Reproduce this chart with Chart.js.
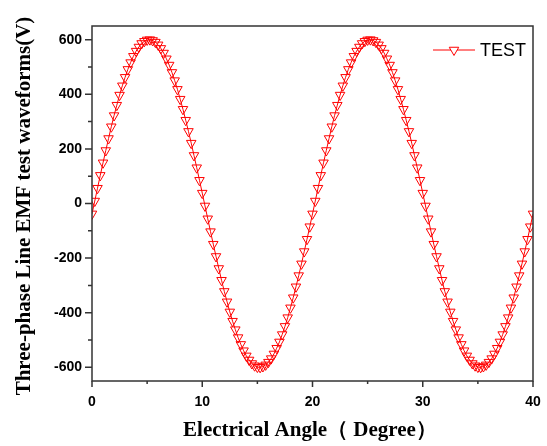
<!DOCTYPE html>
<html lang="en">
<head>
<meta charset="UTF-8">
<title>Three-phase Line EMF test waveforms</title>
<script src="https://cdn.jsdelivr.net/npm/chart.js"></script>
<style>
  html, body { margin: 0; padding: 0; background: #fff; }
  #wrap { width: 547px; height: 446px; }
</style>
</head>
<body>
<div id="wrap"><canvas id="emfChart" width="547" height="446"></canvas></div>
<script>
// electrical angle (degree), sampled every 0.25
const angles = [
  0, 0.25, 0.5, 0.75, 1, 1.25, 1.5, 1.75,
  2, 2.25, 2.5, 2.75, 3, 3.25, 3.5, 3.75,
  4, 4.25, 4.5, 4.75, 5, 5.25, 5.5, 5.75,
  6, 6.25, 6.5, 6.75, 7, 7.25, 7.5, 7.75,
  8, 8.25, 8.5, 8.75, 9, 9.25, 9.5, 9.75,
  10, 10.25, 10.5, 10.75, 11, 11.25, 11.5, 11.75,
  12, 12.25, 12.5, 12.75, 13, 13.25, 13.5, 13.75,
  14, 14.25, 14.5, 14.75, 15, 15.25, 15.5, 15.75,
  16, 16.25, 16.5, 16.75, 17, 17.25, 17.5, 17.75,
  18, 18.25, 18.5, 18.75, 19, 19.25, 19.5, 19.75,
  20, 20.25, 20.5, 20.75, 21, 21.25, 21.5, 21.75,
  22, 22.25, 22.5, 22.75, 23, 23.25, 23.5, 23.75,
  24, 24.25, 24.5, 24.75, 25, 25.25, 25.5, 25.75,
  26, 26.25, 26.5, 26.75, 27, 27.25, 27.5, 27.75,
  28, 28.25, 28.5, 28.75, 29, 29.25, 29.5, 29.75,
  30, 30.25, 30.5, 30.75, 31, 31.25, 31.5, 31.75,
  32, 32.25, 32.5, 32.75, 33, 33.25, 33.5, 33.75,
  34, 34.25, 34.5, 34.75, 35, 35.25, 35.5, 35.75,
  36, 36.25, 36.5, 36.75, 37, 37.25, 37.5, 37.75,
  38, 38.25, 38.5, 38.75, 39, 39.25, 39.5, 39.75,
  40
];

// measured line EMF (V)
const emfValues = [
  -38, 9, 56, 103, 149, 194, 238, 281,
  322, 360, 397, 431, 462, 491, 516, 539,
  558, 573, 586, 594, 599, 600, 597, 591,
  581, 568, 551, 530, 507, 480, 450, 418,
  382, 345, 305, 264, 221, 176, 131, 85,
  38, -9, -56, -103, -149, -194, -238, -281,
  -322, -360, -397, -431, -462, -491, -516, -539,
  -558, -573, -586, -594, -599, -600, -597, -591,
  -581, -568, -551, -530, -507, -480, -450, -418,
  -382, -345, -305, -264, -221, -176, -131, -85,
  -38, 9, 56, 103, 149, 194, 238, 281,
  322, 360, 397, 431, 462, 491, 516, 539,
  558, 573, 586, 594, 599, 600, 597, 591,
  581, 568, 551, 530, 507, 480, 450, 418,
  382, 345, 305, 264, 221, 176, 131, 85,
  38, -9, -56, -103, -149, -194, -238, -281,
  -322, -360, -397, -431, -462, -491, -516, -539,
  -558, -573, -586, -594, -599, -600, -597, -591,
  -581, -568, -551, -530, -507, -480, -450, -418,
  -382, -345, -305, -264, -221, -176, -131, -85,
  -38
];

const xMajorTicks = [0, 10, 20, 30, 40];
const xMinorTicks = [5, 15, 25, 35];
const yMajorTicks = [-600, -400, -200, 0, 200, 400, 600];
const yMinorTicks = [-500, -300, -100, 100, 300, 500];

const seriesName = 'TEST';
const xTitle = 'Electrical Angle（ Degree）';
const yTitle = 'Three-phase Line EMF test waveforms(V)';

const tickFont = { family: "'Liberation Sans', Arial, sans-serif", size: 14, weight: 'bold' };
const titleFont = "bold 21px 'Liberation Serif', 'Times New Roman', serif";

// frame, outward tick marks, axis titles and the inside legend
const decorations = {
  id: 'decorations',
  afterDraw(chart) {
    const ctx = chart.ctx;
    const a = chart.chartArea;
    const xs = chart.scales.x;
    const ys = chart.scales.y;
    ctx.save();

    ctx.strokeStyle = '#333';
    ctx.lineWidth = 1.5;
    ctx.strokeRect(a.left, a.top, a.right - a.left, a.bottom - a.top);

    ctx.beginPath();
    xMajorTicks.forEach(v => {
      const px = xs.getPixelForValue(v);
      ctx.moveTo(px, a.bottom); ctx.lineTo(px, a.bottom + 6);
    });
    xMinorTicks.forEach(v => {
      const px = xs.getPixelForValue(v);
      ctx.moveTo(px, a.bottom); ctx.lineTo(px, a.bottom + 3);
    });
    yMajorTicks.forEach(v => {
      const py = ys.getPixelForValue(v);
      ctx.moveTo(a.left, py); ctx.lineTo(a.left - 7, py);
    });
    yMinorTicks.forEach(v => {
      const py = ys.getPixelForValue(v);
      ctx.moveTo(a.left, py); ctx.lineTo(a.left - 4, py);
    });
    ctx.stroke();

    // axis titles
    ctx.fillStyle = '#000';
    ctx.font = titleFont;
    ctx.textAlign = 'center';
    ctx.textBaseline = 'middle';
    ctx.fillText(xTitle, 310, 431);
    ctx.save();
    ctx.translate(25, 206);
    ctx.rotate(-Math.PI / 2);
    ctx.fillText(yTitle, 0, 0);
    ctx.restore();

    // legend
    const ds = chart.data.datasets[0];
    const ly = 50;
    ctx.strokeStyle = ds.borderColor;
    ctx.lineWidth = 1;
    ctx.beginPath();
    ctx.moveTo(433, ly); ctx.lineTo(475, ly);
    ctx.stroke();
    ctx.fillStyle = '#fff';
    Chart.helpers.drawPoint(ctx, {
      pointStyle: 'triangle', rotation: 180, radius: ds.pointRadius, borderWidth: 1
    }, 454, ly);
    ctx.fillStyle = '#000';
    ctx.font = "18px 'Liberation Sans', Arial, sans-serif";
    ctx.textAlign = 'left';
    ctx.fillText(seriesName, 480, ly + 1);

    ctx.restore();
  }
};

const ctx = document.getElementById('emfChart').getContext('2d');
const emfChart = new Chart(ctx, {
  type: 'line',
  data: {
    datasets: [{
      label: seriesName,
      data: angles.map((a, i) => ({ x: a, y: emfValues[i] })),
      borderColor: '#ff0000',
      borderWidth: 1,
      backgroundColor: 'rgba(255,255,255,0)',
      pointStyle: 'triangle',
      pointRotation: 180,
      pointRadius: 5.5,
      pointBorderWidth: 1,
      pointBorderColor: '#ff0000',
      pointBackgroundColor: 'rgba(255,255,255,0)',
      tension: 0,
      fill: false
    }]
  },
  options: {
    responsive: false,
    animation: false,
    devicePixelRatio: 1,
    layout: { padding: { top: 26, right: 14, left: 0, bottom: 0 } },
    plugins: {
      legend: { display: false },
      tooltip: { enabled: false },
      title: { display: false }
    },
    scales: {
      x: {
        type: 'linear',
        min: 0,
        max: 40,
        afterBuildTicks: s => { s.ticks = xMajorTicks.map(v => ({ value: v })); },
        afterFit: s => { s.height = 65; s.paddingLeft = 0; s.paddingRight = 0; },
        grid: { display: false, drawTicks: false },
        border: { display: false },
        ticks: { font: tickFont, color: '#000', padding: 13, maxRotation: 0 }
      },
      y: {
        type: 'linear',
        min: -650,
        max: 650,
        afterBuildTicks: s => { s.ticks = yMajorTicks.map(v => ({ value: v })); },
        afterFit: s => { s.width = 92; s.paddingTop = 0; s.paddingBottom = 0; },
        grid: { display: false, drawTicks: false },
        border: { display: false },
        ticks: { font: tickFont, color: '#000', padding: 10 }
      }
    }
  },
  plugins: [decorations]
});
</script>
</body>
</html>
